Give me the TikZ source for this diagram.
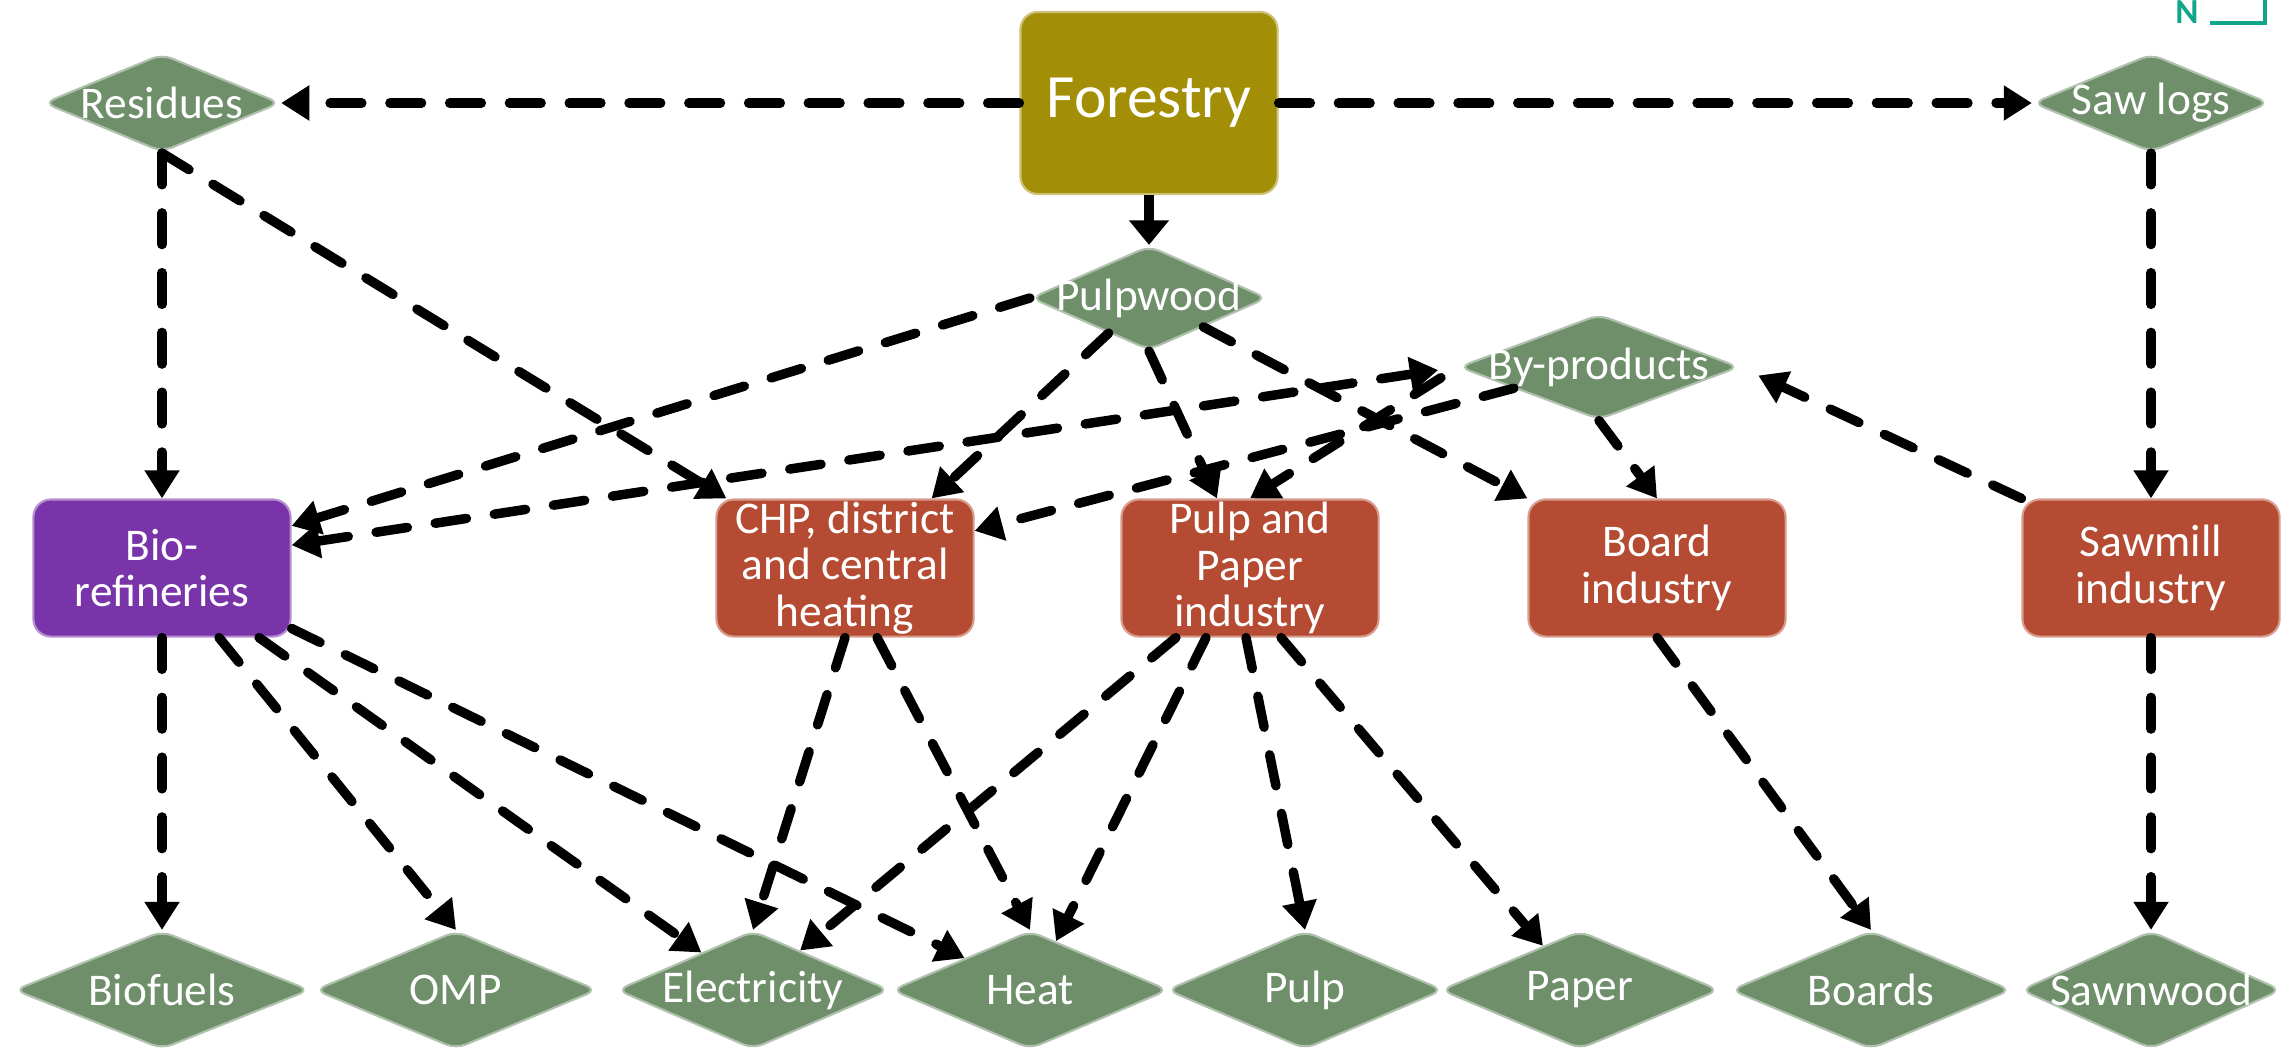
\documentclass[tikz,border=0pt]{standalone}
\usepackage{fontspec}
\setmainfont{Carlito}
\usetikzlibrary{shapes.geometric,arrows.meta}
\definecolor{forestcol}{RGB}{163,143,7}
\definecolor{itemcol}{RGB}{110,143,106}
\definecolor{industrycol}{RGB}{180,75,50}
\definecolor{biocol}{RGB}{120,52,168}
\definecolor{markcol}{RGB}{17,165,138}
\tikzset{boxstyle/.style={rectangle,rounded corners=5pt,fill=#1,draw=#1!55!white,line width=0.6pt,text=white,minimum width=2.57cm,minimum height=1.37cm,align=center,inner sep=0pt,font=\fontsize{12.9}{13.2}\selectfont}}
\tikzset{itemstyle/.style={diamond,aspect=2.5,rounded corners=3pt,fill=itemcol,draw=itemcol!55!white,line width=0.6pt,text=white,inner xsep=-12pt,inner ysep=-2pt,font=\fontsize{12.9}{14}\selectfont}}
\tikzset{flow/.style={line width=2.7pt,line cap=round,dash pattern=on 9pt off 8pt,->}}
\tikzset{mainflow/.style={line width=3pt,-{Triangle[length=7pt,width=11pt]}}}

\begin{document}
\begin{tikzpicture}[x=0.01cm,y=-0.01cm,>={Triangle[length=8pt,width=9.5pt]}]
            \useasboundingbox (0,0) rectangle (2283,1048);
            % setup the nodes
            \node[boxstyle=forestcol,minimum height=1.82cm,font=\fontsize{17.5}{20}\selectfont] (forestry) at (1149,103) {Forestry};
            \node[itemstyle,minimum width=2.36cm,minimum height=0.98cm] (residues) at (162,103) {Residues};
            \node[itemstyle,minimum width=2.36cm,minimum height=0.98cm] (sawlogs) at (2151,103) {Saw logs};
            \node[itemstyle,minimum width=2.36cm,minimum height=1.04cm] (pulpwood) at (1149,298) {Pulpwood};
            \node[itemstyle,minimum width=2.80cm,minimum height=1.05cm] (byprod) at (1599,367) {By-products};
            \node[boxstyle=biocol] (bioref) at (162,568) {Bio-\\refineries};
            \node[boxstyle=industrycol] (chp) at (845,568) {CHP, district\\and central\\heating};
            \node[boxstyle=industrycol] (pulppaper) at (1250,568) {Pulp and\\Paper\\industry};
            \node[boxstyle=industrycol] (board) at (1657,568) {Board\\industry};
            \node[boxstyle=industrycol] (sawmill) at (2151,568) {Sawmill\\industry};
            % bottom row of products
            \foreach \name/\x/\w/\mytext in {biofuels/162/2.95/Biofuels,omp/456/2.82/OMP,elec/753/2.72/Electricity,heat/1030/2.76/Heat,pulp/1305/2.76/Pulp,paper/1580/2.78/Paper,boards/1871/2.80/Boards,sawnwood/2151/2.60/Sawnwood}
            {
                \node[itemstyle,minimum width=\w cm,minimum height=1.18cm] (\name) at (\x,990) {\mytext};
            }
            % corner mark
            \node[text=markcol,font=\bfseries\fontsize{10}{10}\selectfont,inner sep=0pt] (mark) at (2187,12) {N};
            \draw[markcol,line width=1pt] (2210,23) -- (2265,23) -- (2265,0);
            % connect the nodes
            \draw[mainflow] (forestry) -- (pulpwood);
            \draw[flow] (forestry) -- (residues);
            \draw[flow] (forestry) -- (sawlogs);
            \draw[flow] (residues) -- (bioref);
            \draw[flow] (residues.south) -- ([xshift=1.1mm]chp.north west);
            \draw[flow] (sawlogs) -- (sawmill);
            \draw[flow,shorten >=2mm] (sawmill.north west) -- (byprod.east);
            \draw[flow] (pulpwood.west) -- (bioref.18);
            \draw[flow] (pulpwood.221) -- ([xshift=-4.3mm]chp.north east);
            \draw[flow] (pulpwood.south) -- ([xshift=-3.3mm]pulppaper.north);
            \draw[flow] (pulpwood.-28) -- (board.north west);
            \draw[flow,<->,shorten <=2mm] (byprod.west) -- (bioref.10);
            \draw[flow] (byprod.194) -- (chp.16);
            \draw[flow,shorten <=2mm] (byprod.west) -- (pulppaper.north);
            \draw[flow] (byprod.south) -- (board.north);
            % products
            \foreach \from/\dx/\to in {bioref.south/0mm/biofuels.north,bioref.south/5.7mm/omp.north,bioref.south/9.7mm/elec.144,bioref.-25/0mm/heat.154,chp.south/0mm/elec.north,chp.south/3.2mm/heat.north,pulppaper.south/-7.4mm/elec.40,pulppaper.south/-4.4mm/heat.62,pulppaper.south/-0.4mm/pulp.north,pulppaper.south/3.1mm/paper.130,board.south/0mm/boards.north,sawmill.south/0mm/sawnwood.north}
            {
                \draw[flow] ([xshift=\dx]\from) -- (\to);
            }
        \end{tikzpicture}
\end{document}
